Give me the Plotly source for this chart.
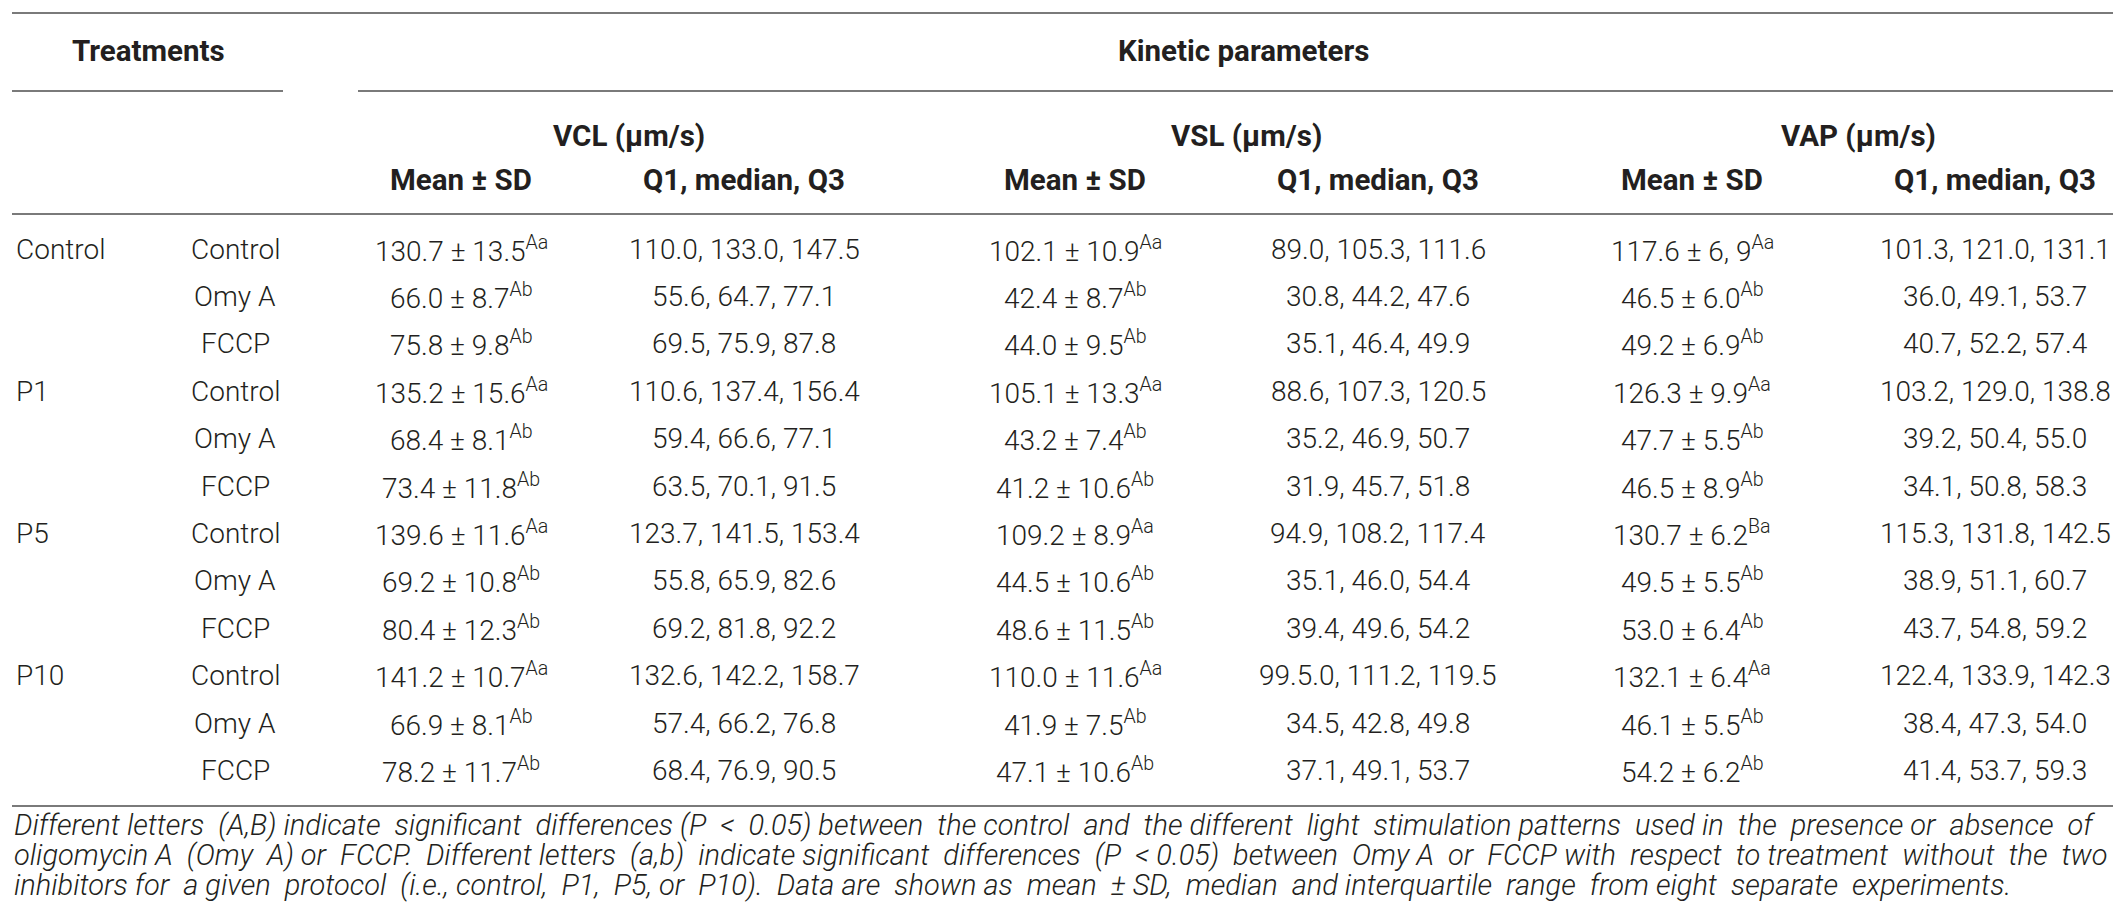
import plotly.graph_objects as go

# table content
groups = ["Control", "P1", "P5", "P10"]
treatments = ["Control", "Omy A", "FCCP"]

vcl_mean = ["130.7", "66.0", "75.8", "135.2", "68.4", "73.4",
            "139.6", "69.2", "80.4", "141.2", "66.9", "78.2"]
vcl_sd = ["13.5", "8.7", "9.8", "15.6", "8.1", "11.8",
          "11.6", "10.8", "12.3", "10.7", "8.1", "11.7"]
vcl_sup = ["Aa", "Ab", "Ab", "Aa", "Ab", "Ab",
           "Aa", "Ab", "Ab", "Aa", "Ab", "Ab"]
vcl_q = ["110.0, 133.0, 147.5", "55.6, 64.7, 77.1", "69.5, 75.9, 87.8",
         "110.6, 137.4, 156.4", "59.4, 66.6, 77.1", "63.5, 70.1, 91.5",
         "123.7, 141.5, 153.4", "55.8, 65.9, 82.6", "69.2, 81.8, 92.2",
         "132.6, 142.2, 158.7", "57.4, 66.2, 76.8", "68.4, 76.9, 90.5"]

vsl_mean = ["102.1", "42.4", "44.0", "105.1", "43.2", "41.2",
            "109.2", "44.5", "48.6", "110.0", "41.9", "47.1"]
vsl_sd = ["10.9", "8.7", "9.5", "13.3", "7.4", "10.6",
          "8.9", "10.6", "11.5", "11.6", "7.5", "10.6"]
vsl_sup = ["Aa", "Ab", "Ab", "Aa", "Ab", "Ab",
           "Aa", "Ab", "Ab", "Aa", "Ab", "Ab"]
vsl_q = ["89.0, 105.3, 111.6", "30.8, 44.2, 47.6", "35.1, 46.4, 49.9",
         "88.6, 107.3, 120.5", "35.2, 46.9, 50.7", "31.9, 45.7, 51.8",
         "94.9, 108.2, 117.4", "35.1, 46.0, 54.4", "39.4, 49.6, 54.2",
         "99.5.0, 111.2, 119.5", "34.5, 42.8, 49.8", "37.1, 49.1, 53.7"]

vap_mean = ["117.6", "46.5", "49.2", "126.3", "47.7", "46.5",
            "130.7", "49.5", "53.0", "132.1", "46.1", "54.2"]
vap_sd = ["6, 9", "6.0", "6.9", "9.9", "5.5", "8.9",
          "6.2", "5.5", "6.4", "6.4", "5.5", "6.2"]
vap_sup = ["Aa", "Ab", "Ab", "Aa", "Ab", "Ab",
           "Ba", "Ab", "Ab", "Aa", "Ab", "Ab"]
vap_q = ["101.3, 121.0, 131.1", "36.0, 49.1, 53.7", "40.7, 52.2, 57.4",
         "103.2, 129.0, 138.8", "39.2, 50.4, 55.0", "34.1, 50.8, 58.3",
         "115.3, 131.8, 142.5", "38.9, 51.1, 60.7", "43.7, 54.8, 59.2",
         "122.4, 133.9, 142.3", "38.4, 47.3, 54.0", "41.4, 53.7, 59.3"]

params = ["VCL (\u03bcm/s)", "VSL (\u03bcm/s)", "VAP (\u03bcm/s)"]
subheads = ["Mean \u00b1 SD", "Q1, median, Q3"]

footnote = [
    "Different letters (A,B) indicate significant differences (P &lt; 0.05) between the control and the different light stimulation patterns used in the presence or absence of",
    "oligomycin A (Omy A) or FCCP. Different letters (a,b) indicate significant differences (P &lt; 0.05) between Omy A or FCCP with respect to treatment without the two",
    "inhibitors for a given protocol (i.e., control, P1, P5, or P10). Data are shown as mean \u00b1 SD, median and interquartile range from eight separate experiments.",
]

# layout (pixels)
W, H = 2121, 921
FONT = "Roboto"
INK = "#231f20"
RULE = "#7a7a7a"
BODY, HEAD, NOTE = 28, 29.5, 29
ROW0, ROW_H = 241, 47.4
GROUP_X, TREAT_X = 6, 227
PARAM_X = [621, 1238, 1850]
MEAN_X = [453, 1067, 1684]
Q_X = [736, 1370, 1987]
NOTE_Y0, NOTE_DY = 817, 30
NOTE_GLUE = [15, 18, 16]   # extra nbsp per line, spread over the gaps (justified look)


def spread(line, n):
    words = line.split(" ")
    gaps = len(words) - 1
    out = words[0]
    for g in range(gaps):
        extra = (g + 1) * n // gaps - g * n // gaps
        out += " " + "\u00a0" * extra + words[g + 1]
    return out


fig = go.Figure()
fig.add_trace(go.Scatter(x=[0, W], y=[0, H], mode="markers",
                         marker=dict(opacity=0), hoverinfo="skip", showlegend=False))

ann = []


def cell(x, y, text, size=BODY, bold=False, anchor="center"):
    ann.append(dict(x=x, y=y, xref="x", yref="y", text=text, showarrow=False,
                    xanchor=anchor, yanchor="middle",
                    font=dict(family=FONT, size=size, color=INK,
                              weight=700 if bold else 300)))


# headers
cell(140, 43, "Treatments", size=HEAD, bold=True)
cell(1235, 43, "Kinetic parameters", size=HEAD, bold=True)
for k, p in enumerate(params):
    cell(PARAM_X[k], 128, p, size=HEAD, bold=True)
    cell(MEAN_X[k], 172, subheads[0], size=HEAD, bold=True)
    cell(Q_X[k], 172, subheads[1], size=HEAD, bold=True)

# body
means = [(vcl_mean, vcl_sd, vcl_sup), (vsl_mean, vsl_sd, vsl_sup), (vap_mean, vap_sd, vap_sup)]
qs = [vcl_q, vsl_q, vap_q]
for i in range(len(vcl_mean)):
    y = ROW0 + i * ROW_H
    if i % 3 == 0:
        cell(GROUP_X, y, groups[i // 3], anchor="left")
    cell(TREAT_X, y, treatments[i % 3])
    for k in range(3):
        m, s, sup = means[k]
        cell(MEAN_X[k], y, f"{m[i]} \u00b1 {s[i]}<sup>{sup[i]}</sup>")
        cell(Q_X[k], y, qs[k][i])

# footnote
for j, line in enumerate(footnote):
    ann.append(dict(x=4, y=NOTE_Y0 + j * NOTE_DY, xref="x", yref="y",
                    text=f"<i>{spread(line, NOTE_GLUE[j])}</i>",
                    showarrow=False, xanchor="left", yanchor="middle",
                    font=dict(family=FONT, size=NOTE, color=INK, weight=300)))

# rules
rules = [(4, 2115, 5), (4, 275, 83), (350, 2115, 83), (4, 2115, 206), (4, 2115, 798)]
shapes = [dict(type="line", xref="x", yref="y", x0=a, x1=b, y0=c, y1=c,
               line=dict(color=RULE, width=2)) for a, b, c in rules]

fig.update_layout(
    width=W, height=H, margin=dict(l=0, r=0, t=0, b=0),
    paper_bgcolor="white", plot_bgcolor="white",
    xaxis=dict(range=[0, W], visible=False, fixedrange=True),
    yaxis=dict(range=[H, 0], visible=False, fixedrange=True),
    annotations=ann, shapes=shapes, showlegend=False,
)

fig.write_html("out.html")
